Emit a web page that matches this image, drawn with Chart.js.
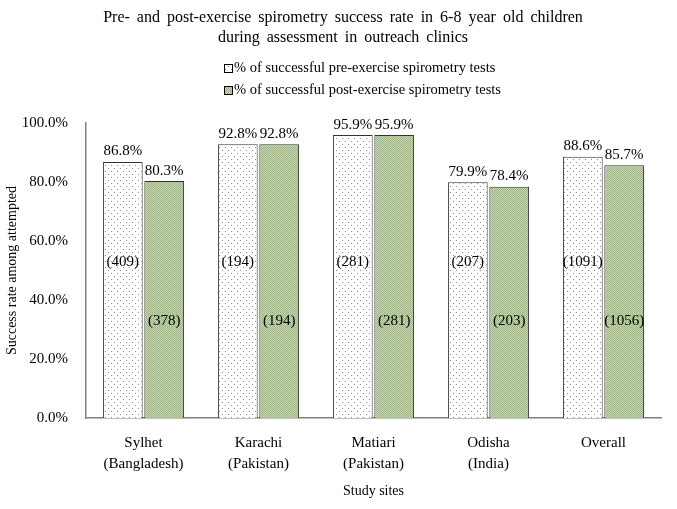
<!DOCTYPE html>
<html>
<head>
<meta charset="utf-8">
<script src="https://cdn.jsdelivr.net/npm/chart.js@4.4.0/dist/chart.umd.min.js"></script>
<style>
  html, body { margin: 0; padding: 0; background: #fff; }
  #wrap { width: 677px; height: 509px; }
</style>
</head>
<body>
<div id="wrap"><canvas id="myChart" width="677" height="509"></canvas></div>
<script>
const sites = [['Sylhet', '(Bangladesh)'], ['Karachi', '(Pakistan)'], ['Matiari', '(Pakistan)'], ['Odisha', '(India)'], ['Overall', '']];
const preRate = [86.8, 92.8, 95.9, 79.9, 88.6];
const postRate = [80.3, 92.8, 95.9, 78.4, 85.7];
const preCount = [409, 194, 281, 207, 1091];
const postCount = [378, 194, 281, 203, 1056];
const yTicks = [0, 20, 40, 60, 80, 100];

const serif = '"Liberation Serif", "Times New Roman", serif';

function dotPattern() {
    const c = document.createElement('canvas');
    c.width = 6; c.height = 6;
    const g = c.getContext('2d');
    g.fillStyle = '#ffffff';
    g.fillRect(0, 0, 6, 6);
    g.fillStyle = '#8a8a8a';
    g.fillRect(0, 0, 1, 1);
    g.fillRect(3, 3, 1, 1);
    return g.createPattern(c, 'repeat');
}

function checkPattern() {
    const c = document.createElement('canvas');
    c.width = 2; c.height = 2;
    const g = c.getContext('2d');
    g.fillStyle = '#c5d5b5';
    g.fillRect(0, 0, 2, 2);
    g.fillStyle = '#9db487';
    g.fillRect(0, 0, 1, 1);
    g.fillRect(1, 1, 1, 1);
    return g.createPattern(c, 'repeat');
}

const preFill = dotPattern();
const postFill = checkPattern();

// title, legend and bar labels
const extras = {
    id: 'extras',
    afterDatasetsDraw(chart) {
        const ctx = chart.ctx;
        const y = chart.scales.y;
        ctx.save();
        ctx.fillStyle = '#000';
        ctx.font = '16px ' + serif;
        ctx.textAlign = 'center';
        ctx.textBaseline = 'middle';
        ctx.wordSpacing = '3px';
        ctx.fillText('Pre- and post-exercise spirometry success rate in 6-8 year old children', 343, 18);
        ctx.fillText('during assessment in outreach clinics', 343, 38);
        ctx.wordSpacing = '0px';

        // legend
        ctx.font = '14.5px ' + serif;
        ctx.textAlign = 'left';
        const legend = [['% of successful pre-exercise spirometry tests', preFill],
                        ['% of successful post-exercise spirometry tests', postFill]];
        legend.forEach((item, i) => {
            const ly = 68 + i * 22;
            ctx.fillStyle = item[1];
            ctx.fillRect(224, ly - 4, 8, 8);
            ctx.strokeStyle = '#000';
            ctx.lineWidth = 1;
            ctx.strokeRect(224.5, ly - 3.5, 8, 8);
            ctx.fillStyle = '#000';
            ctx.fillText(item[0], 234, ly);
        });

        // value labels and counts
        const rates = [preRate, postRate];
        const counts = [preCount, postCount];
        const countLevel = [53, 33];
        ctx.font = '15px ' + serif;
        ctx.textAlign = 'center';
        [0, 1].forEach(d => {
            const meta = chart.getDatasetMeta(d);
            meta.data.forEach((bar, i) => {
                ctx.textBaseline = 'bottom';
                ctx.fillText(rates[d][i].toFixed(1) + '%', bar.x, bar.y - 3);
                ctx.textBaseline = 'middle';
                ctx.fillText('(' + counts[d][i] + ')', bar.x, y.getPixelForValue(countLevel[d]));
            });
        });
        ctx.restore();
    }
};

const data = {
    labels: sites,
    datasets: [{
        label: '% of successful pre-exercise spirometry tests',
        data: preRate,
        backgroundColor: preFill,
        borderColor: '#333',
        borderWidth: 1,
        categoryPercentage: 0.72,
        barPercentage: 0.96
    }, {
        label: '% of successful post-exercise spirometry tests',
        data: postRate,
        backgroundColor: postFill,
        borderColor: '#333',
        borderWidth: 1,
        categoryPercentage: 0.72,
        barPercentage: 0.96
    }]
};

const config = {
    type: 'bar',
    data: data,
    options: {
        responsive: false,
        animation: false,
        layout: { padding: { top: 123, right: 16, left: 0, bottom: 0 } },
        plugins: {
            legend: { display: false },
            title: { display: false },
            tooltip: { enabled: false }
        },
        scales: {
            x: {
                grid: { display: false },
                border: { display: true, color: '#808080', width: 1.5 },
                ticks: {
                    color: '#000',
                    font: { family: serif, size: 15, lineHeight: 1.4 },
                    padding: 7,
                    maxRotation: 0
                },
                title: {
                    display: true,
                    text: 'Study sites',
                    color: '#000',
                    font: { family: serif, size: 14 },
                    padding: { top: 4, bottom: 9 }
                },
                afterFit: scale => { scale.height = 91; }
            },
            y: {
                min: 0,
                max: 100,
                afterBuildTicks: scale => { scale.ticks = yTicks.map(v => ({ value: v })); },
                grid: { display: false },
                border: { display: true, color: '#808080', width: 1.5 },
                ticks: {
                    color: '#000',
                    font: { family: serif, size: 15 },
                    padding: 10,
                    callback: v => v.toFixed(1) + '%'
                },
                title: {
                    display: true,
                    text: 'Success rate among attempted',
                    color: '#000',
                    font: { family: serif, size: 14 },
                    padding: { top: 4, bottom: 0 }
                },
                afterFit: scale => { scale.width = 86; }
            }
        }
    },
    plugins: [extras]
};

const myChart = new Chart(document.getElementById('myChart'), config);
</script>
</body>
</html>
